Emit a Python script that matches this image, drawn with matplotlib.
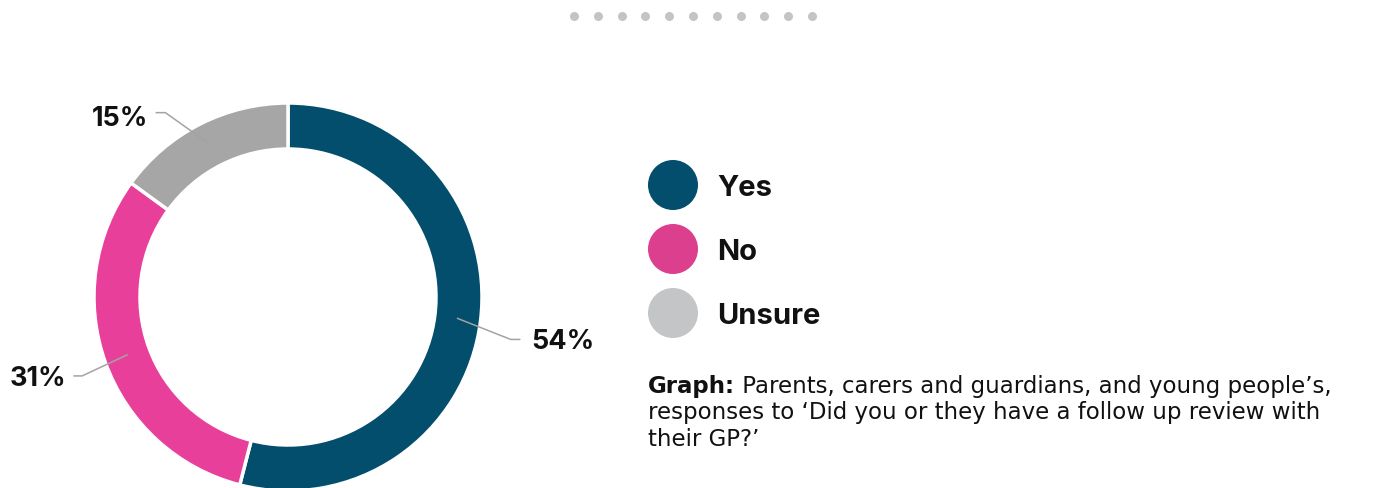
import numpy as np
import matplotlib.pyplot as plt

plt.rcParams['font.family'] = ['Inter', 'DejaVu Sans']

# data
categories = ['Yes', 'No', 'Unsure']
shares = [54, 31, 15]
ring_colors = ['#024e6c', '#e8409a', '#a6a6a6']
legend_colors = ['#024e6c', '#db3f8d', '#c4c5c7']
caption_bold = 'Graph:'
caption_lines = ["Parents, carers and guardians, and young people\u2019s,",
                 "responses to \u2018Did you or they have a follow up review with",
                 "their GP?\u2019"]

W, H = 1378, 488
fig = plt.figure(figsize=(W / 100, H / 100), dpi=100)
ax = fig.add_axes([0, 0, 1, 1])

# donut, working in pixel coordinates (y up)
cx, cy = 288, H - 297
r_out, ring_w = 194, 46
wedges, _ = ax.pie(shares, colors=ring_colors, startangle=90, counterclock=False,
                   radius=r_out, center=(cx, cy),
                   wedgeprops=dict(width=ring_w, edgecolor='white', linewidth=2.5))

# percentage labels with leader lines
# (elbow offset from the ring point, horizontal run, text side)
label_layout = {
    'Yes': ((53, -21), (9, 0), 'left'),
    'No': ((-45, -21), (-8, 0), 'right'),
    'Unsure': ((-45, 32), (-9, 0), 'right'),
}
r_mid = r_out - ring_w / 2
for w, cat, val in zip(wedges, categories, shares):
    ang = np.deg2rad((w.theta1 + w.theta2) / 2)
    px, py = cx + r_mid * np.cos(ang), cy + r_mid * np.sin(ang)
    (ex, ey), (hx, hy), side = label_layout[cat]
    x1, y1 = px + ex, py + ey
    x2 = x1 + hx
    ax.plot([px, x1, x2], [py, y1, y1], color='#a3a3a3', lw=1.1, zorder=5)
    tx = x2 + (12 if side == 'left' else -8)
    dy = -6 if cat == 'Unsure' else -3
    ax.text(tx, y1 + dy, f'{val}%', ha=side, va='center', fontsize=19.5,
            fontweight='bold', color='#111111')

# legend
leg_x, leg_y0, leg_dy = 673, H - 185, 64
for i, (cat, col) in enumerate(zip(categories, legend_colors)):
    y = leg_y0 - i * leg_dy
    ax.add_patch(plt.Circle((leg_x, y), 25, color=col, lw=0))
    ax.text(leg_x + 44, y - 3, cat, ha='left', va='center', fontsize=21,
            fontweight='bold', color='#111111')

# caption
cap_font = ['DejaVu Sans']
cap_x, cap_y, cap_dy = 648, H - 386, 27
t = ax.text(cap_x, cap_y, caption_bold, fontsize=16.5, fontweight='bold',
            family=cap_font, color='#111111', ha='left', va='center')
ax.annotate(' ' + caption_lines[0], xy=(1, 0.5), xycoords=t, ha='left',
            va='center', fontsize=16.5, family=cap_font, color='#111111')
for i, line in enumerate(caption_lines[1:], start=1):
    ax.text(cap_x, cap_y - i * cap_dy, line, fontsize=16.5, family=cap_font,
            color='#111111', ha='left', va='center')

# row of dots at the top
dot_x = np.linspace(574, 812, 11)
ax.scatter(dot_x, np.full(11, H - 16), s=42, color='#c4c4c4', lw=0)

ax.set_xlim(0, W)
ax.set_ylim(0, H)
ax.set_aspect('equal')
ax.axis('off')

fig.savefig('out.png', dpi=100, facecolor='white')
